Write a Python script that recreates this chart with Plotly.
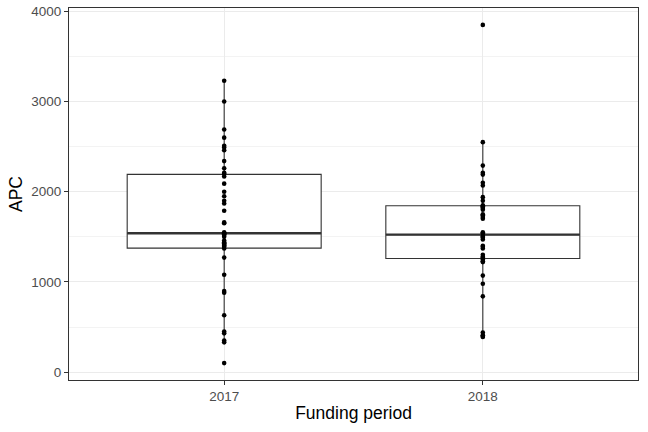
import numpy as np
import plotly.graph_objects as go

categories = ["2017", "2018"]
apc_2017 = [100, 330, 350, 430, 450, 630, 880, 900, 1080, 1270, 1370, 1390, 1400,
            1410, 1420, 1430, 1440, 1460, 1500, 1520, 1530, 1540, 1550, 1650, 1660,
            1790, 1870, 1900, 1950, 2000, 2090, 2170, 2200, 2210, 2260, 2340, 2460,
            2490, 2510, 2600, 2690, 3000, 3230]
apc_2018 = [390, 400, 410, 440, 840, 980, 1070, 1220, 1230, 1250,
            1270, 1280, 1300, 1370, 1390, 1400, 1470, 1490, 1500, 1510,
            1540, 1550, 1700, 1720, 1740, 1750, 1800, 1820, 1830, 1840,
            1850, 1900, 1940, 2070, 2100, 2190, 2210, 2290, 2550, 3850]
y_ticks = [0, 1000, 2000, 3000, 4000]

series = [apc_2017, apc_2018]
BOX_W = 0.75
dark = "#333333"
grid = "#ebebeb"

fig = go.Figure()
for i, vals in enumerate(series):
    fig.add_trace(go.Box(
        x=[i] * len(vals), y=vals, width=BOX_W, boxpoints="outliers",
        marker=dict(size=0, opacity=0), whiskerwidth=0,
        fillcolor="white", line=dict(color=dark, width=1.1),
        quartilemethod="linear", showlegend=False, hoverinfo="skip",
    ))
    med = float(np.median(vals))
    fig.add_trace(go.Scatter(
        x=[i - BOX_W / 2, i + BOX_W / 2], y=[med, med], mode="lines",
        line=dict(color=dark, width=2.4), showlegend=False, hoverinfo="skip",
    ))
    fig.add_trace(go.Scatter(
        x=[i] * len(vals), y=vals, mode="markers",
        marker=dict(color="black", size=4.6), showlegend=False,
    ))

allv = apc_2017 + apc_2018
lo, hi = min(allv), max(allv)
pad = (hi - lo) * 0.05

fig.update_layout(
    width=648, height=432,
    margin=dict(l=69, r=10, t=8, b=52),
    paper_bgcolor="white", plot_bgcolor="white",
    font=dict(family="Liberation Sans, Arial, sans-serif", color="black"),
    xaxis=dict(
        range=[-0.6, 1.6], tickmode="array", tickvals=[0, 1], ticktext=categories,
        showgrid=True, gridcolor=grid, gridwidth=1.1, zeroline=False,
        showline=True, mirror=True, linecolor=dark, linewidth=1,
        ticks="outside", ticklen=4, tickcolor=dark, tickwidth=1,
        tickfont=dict(size=13.5, color="#4d4d4d"), automargin=False,
        title=dict(text="Funding period", font=dict(size=17.5, color="black"), standoff=3),
    ),
    yaxis=dict(
        range=[lo - pad, hi + pad], tickmode="array", tickvals=y_ticks,
        showgrid=True, gridcolor=grid, gridwidth=1.1, zeroline=False,
        showline=True, mirror=True, linecolor=dark, linewidth=1,
        ticks="outside", ticklen=4, tickcolor=dark, tickwidth=1,
        tickfont=dict(size=13.5, color="#4d4d4d"), automargin=False,
        minor=dict(tickmode="linear", tick0=500, dtick=1000, showgrid=True,
                   gridcolor="#f3f3f3", gridwidth=0.6, ticks=""),
        title=dict(text="APC", font=dict(size=17.5, color="black"), standoff=4),
    ),
)

fig.write_html("out.html", config={"displayModeBar": False},
               post_script="document.body.style.margin='0';")
